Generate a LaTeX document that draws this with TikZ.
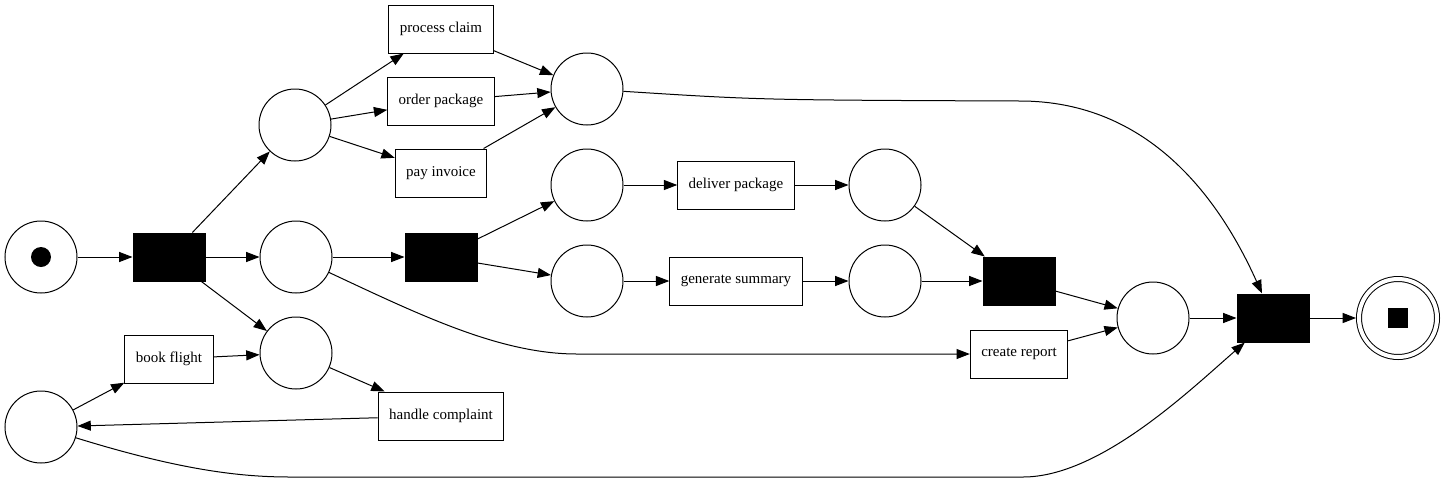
\documentclass[tikz,border=0pt]{standalone}
\usepackage{fontspec}
\setmainfont{Liberation Serif}
\usetikzlibrary{arrows.meta}
\begin{document}
\begin{tikzpicture}[x = 0.75pt, y = -0.75pt, line width = 0.75pt,
        place/.style = {draw, circle, minimum size = 54pt, inner sep = 0pt},
        trans/.style = {draw, fill = black, minimum width = 54pt, minimum height = 36pt, inner sep = 0pt},
        task/.style = {draw, minimum height = 36pt, inner xsep = 8.25pt, inner ysep = 0pt},
        token/.style = {circle, fill = black, minimum size = 15pt, inner sep = 0pt},
        endtoken/.style = {fill = black, minimum size = 14.5pt, inner sep = 0pt},
        arc/.style = {-{Triangle[length = 10pt, width = 7.5pt]}}]
        \useasboundingbox (0,0) rectangle (1445,483);
        \node [place] (p0) at (41,257) {};
        \node [token] at (p0) {};
        \node [trans] (t1) at (169,257) {};
        \node [place] (pA) at (295,125) {};
        \node [place] (pB) at (296,257) {};
        \node [place] (pC) at (296,353) {};
        \node [place] (pD) at (587,89) {};
        \node [trans] (t2) at (441,257) {};
        \node [place] (pE) at (587,185) {};
        \node [place] (pF) at (587,281) {};
        \node [place] (pG) at (885,185) {};
        \node [place] (pH) at (885,281) {};
        \node [trans] (t3) at (1019,281) {};
        \node [place] (pI) at (1153,318) {};
        \node [trans] (t4) at (1273,318) {};
        \node [place, double, double distance = 3pt, outer sep = 2.25pt, minimum size = 58.5pt] (pEnd) at (1398,318) {};
        \node [endtoken] at (pEnd) {};
        \node [place] (pJ) at (41,427) {};
        \begin{scope}[font = \fontsize{11.25}{13.5}\selectfont]
            \node [task] (claim) at (441,29) {process claim};
            \node [task] (order) at (441,101) {order package};
            \node [task] (pay) at (441,173) {pay invoice};
            \node [task] (deliver) at (736,185) {deliver package};
            \node [task] (summary) at (736,281) {generate summary};
            \node [task] (report) at (1019,354) {create report};
            \node [task] (flight) at (169,359) {book flight};
            \node [task] (complaint) at (441,416) {handle complaint};
        \end{scope}
        \draw [arc] (p0) -- (t1);
        \draw [arc] (t1) -- (pA);
        \draw [arc] (t1) -- (pB);
        \draw [arc] (t1) -- (pC);
        \draw [arc] (pA) -- (claim);
        \draw [arc] (pA) -- (order);
        \draw [arc] (pA) -- (pay);
        \draw [arc] (claim) -- (pD);
        \draw [arc] (order) -- (pD);
        \draw [arc] (pay) -- (pD);
        \draw [arc] (pB) -- (t2);
        \draw [arc] (t2) -- (pE);
        \draw [arc] (t2) -- (pF);
        \draw [arc] (pE) -- (deliver);
        \draw [arc] (pF) -- (summary);
        \draw [arc] (deliver) -- (pG);
        \draw [arc] (summary) -- (pH);
        \draw [arc] (pG) -- (t3);
        \draw [arc] (pH) -- (t3);
        \draw [arc] (t3) -- (pI);
        \draw [arc] (report) -- (pI);
        \draw [arc] (pI) -- (t4);
        \draw [arc] (t4) -- (pEnd);
        \draw [arc] (pC) -- (complaint);
        \draw [arc] (complaint) -- (pJ);
        \draw [arc] (pJ) -- (flight);
        \draw [arc] (flight) -- (pC);
        \draw [arc] (pB) .. controls (420,315) and (500,354) .. (577,354) -- (report);
        \draw [arc] (pD) .. controls (760,100) .. (1020,101) .. controls (1150,101) and (1220,200) .. (t4);
        \draw [arc] (pJ) .. controls (180,470) and (240,477) .. (290,477) -- (1023,477) .. controls (1100,477) and (1190,390) .. (t4);
\end{tikzpicture}
\end{document}
